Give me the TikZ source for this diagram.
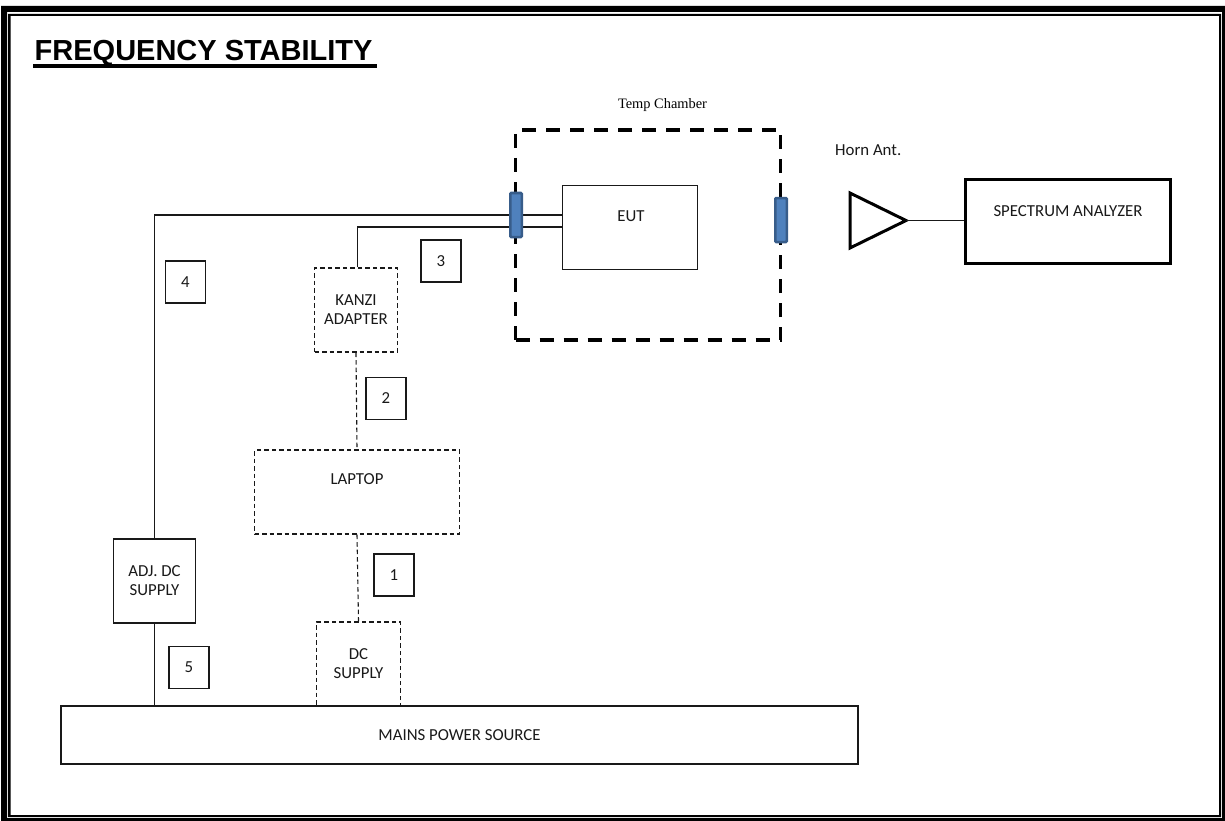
\documentclass[tikz,border=0pt]{standalone}
\usepackage{fontspec}
\setmainfont{Carlito}
\newfontfamily\headfont{Liberation Sans}
\newfontfamily\seriffont{Liberation Serif}
\definecolor{portfill}{RGB}{79,129,189}
\definecolor{portline}{RGB}{56,93,138}
\tikzset{
  x=1pt,y=-1pt,
  lbl/.style={inner sep=0pt,font=\fontsize{16.8}{19}\selectfont,align=center,text=black!90},
  solidbox/.style={draw=black!90,line width=1.2pt,fill=white,inner sep=0pt,font=\fontsize{16.8}{19}\selectfont,align=center,text=black!90},
  dashbox/.style={solidbox,line width=1.1pt,dash pattern=on 4.5pt off 3pt},
  wire/.style={draw=black!90,line width=1.2pt},
  dashwire/.style={wire,line width=1.1pt,dash pattern=on 4.5pt off 3pt},
  portbar/.style={draw=portline,fill=portfill,line width=2.5pt,rounded corners=1pt,minimum width=11.5pt,minimum height=44pt,inner sep=0pt},
  numbox/.style={solidbox,minimum width=40pt,minimum height=42pt}
}
\begin{document}
\begin{tikzpicture}
\useasboundingbox (0,0) rectangle (1225,821);
% page frame
\fill[white] (0,0) rectangle (1225,821);
\fill[black,even odd rule] (1,6) rectangle (1225,821) (7,12) rectangle (1222,818);
\fill[black,even odd rule] (8,14) rectangle (1221,817) (10.5,16) rectangle (1219,815);
% title
\node[inner sep=0pt,anchor=base west,font=\headfont\bfseries\fontsize{29}{33}\selectfont] (title) at (34.5,61) {FREQUENCY STABILITY};
\coordinate (ulL) at (33,66.2); \coordinate (ulR) at (377,66.2);
\draw[black,line width=3.6pt] (ulL) -- (ulR);
% labels
\node[inner sep=0pt,font=\seriffont\fontsize{14.4}{16}\selectfont] (tempLabel) at (662.5,105.5) {Temp Chamber};
\node[lbl,anchor=west] (hornLabel) at (835,150) {Horn Ant.};
% chamber
\node[draw=black,line width=3.2pt,dash pattern=on 14pt off 10pt,minimum width=265pt,minimum height=210pt,inner sep=0pt] (chamber) at (648,235) {};
% EUT
\node[solidbox,minimum width=135pt,minimum height=84pt] (eut) at (630,227.5) {};
\node[lbl] (eutText) at (631,216) {EUT};
% boxes
\node[dashbox,minimum width=83pt,minimum height=84pt] (kanzi) at (356,310) {KANZI\\ADAPTER};
\node[dashbox,minimum width=205pt,minimum height=84pt] (laptop) at (357,492) {};
\node[lbl] (laptopText) at (357,479) {LAPTOP};
\node[dashbox,minimum width=84pt,minimum height=84pt] (dcsup) at (358.5,664) {DC\\SUPPLY};
\node[solidbox,minimum width=82pt,minimum height=84pt] (adj) at (154.5,581) {ADJ. DC\\SUPPLY};
\node[solidbox,minimum width=797pt,minimum height=58pt] (mains) at (459.5,735) {MAINS POWER SOURCE};
% spectrum analyzer and horn
\node[draw=black,line width=3.2pt,fill=white,minimum width=205pt,minimum height=84pt,inner sep=0pt] (sa) at (1068,221.5) {};
\node[lbl] (saText) at (1068,211) {SPECTRUM ANALYZER};
\coordinate (hornA) at (850,193); \coordinate (hornB) at (850,248); \coordinate (hornTip) at (906,220.5);
\draw[black,line width=3pt,line join=miter] (hornA) -- (hornTip) -- (hornB) -- cycle;
% wires
\coordinate (w4) at (155,215);
\coordinate (w3) at (357.5,227);
\draw[wire] (adj.north) -- (adj.north |- w4) -- (eut.west |- w4);
\draw[wire] (kanzi.north -| w3) -- (w3) -- (eut.west |- w3);
\draw[wire] (adj.south) -- (mains.north -| adj.south);
\draw[dashwire] (kanzi.south) -- (laptop.north);
\draw[dashwire] (laptop.south) -- (dcsup.north);
\draw[wire] (hornTip) -- (sa.west |- hornTip);
% ports
\node[portbar] (portL) at (516,215) {};
\node[portbar] (portR) at (781,220) {};
% numbers
\node[numbox] (n1) at (394,575) {1};
\node[numbox] (n2) at (386,398.5) {2};
\node[numbox] (n3) at (441,261) {3};
\node[numbox] (n4) at (185.5,282) {4};
\node[numbox] (n5) at (189,667.5) {5};
\end{tikzpicture}
\end{document}
